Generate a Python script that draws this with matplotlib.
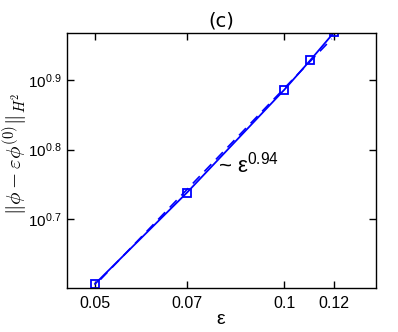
import numpy as np
import matplotlib
matplotlib.use('Agg')
import matplotlib.pyplot as plt

# data (log-log)
eps = [0.05, 0.07, 0.1, 0.11, 0.12]
norm = [4.045, 5.47, 7.69, 8.48, 9.30]
fit_slope = 0.94
fit_range = [0.051, 0.119]
xticks = [0.05, 0.07, 0.1, 0.12]
xticklabels = ['0.05', '0.07', '0.1', '0.12']
yexps = [0.7, 0.8, 0.9]

plt.rcParams['font.family'] = ['Liberation Sans', 'DejaVu Sans']

fig = plt.figure(figsize=(3.98, 3.32), dpi=100)
ax = fig.add_axes([0.168, 0.1325, 0.777, 0.768])

ax.set_xscale('log')
ax.set_yscale('log')

ax.plot(eps, norm, '-', color='b', lw=1.3, marker='s', ms=6, mfc='none', mew=1.3)

# fitted power law, anchored near the last point
xf = np.array(fit_range)
b = np.log10(norm[-1]) - fit_slope * np.log10(eps[-1]) - 0.006
ax.plot(xf, 10**b * xf**fit_slope, '--', color='b', lw=1.2, dashes=(6, 4))

ax.text(0.0785, 5.85, r'~ $\mathregular{\varepsilon^{0.94}}$', fontsize=16)

ax.set_xlim(0.0451, 0.140)
ax.set_ylim(3.99, 9.28)
ax.xaxis.set_minor_locator(matplotlib.ticker.NullLocator())
ax.yaxis.set_minor_locator(matplotlib.ticker.NullLocator())
ax.set_xticks(xticks)
ax.set_xticklabels(xticklabels)
ax.set_yticks([10**e for e in yexps])
ax.set_yticklabels([r'$\mathregular{10^{%g}}$' % e for e in yexps])
ax.tick_params(direction='in', top=True, right=True, length=5, width=1, labelsize=11.5, pad=6)
ax.tick_params(axis='y', labelsize=11, pad=4)
for s in ax.spines.values():
    s.set_linewidth(1.0)

ax.set_xlabel(r'$\mathregular{\varepsilon}$', fontsize=14, labelpad=0)
ax.set_ylabel(r'$\Vert\phi-\varepsilon\phi^{(0)}\Vert_{H^2}$', fontsize=15,
              math_fontfamily='cm')
ax.yaxis.set_label_coords(-0.118, 0.525)
ax.set_title('(c)', fontsize=14, pad=5, family='DejaVu Sans')

fig.savefig('out.png', dpi=100)
